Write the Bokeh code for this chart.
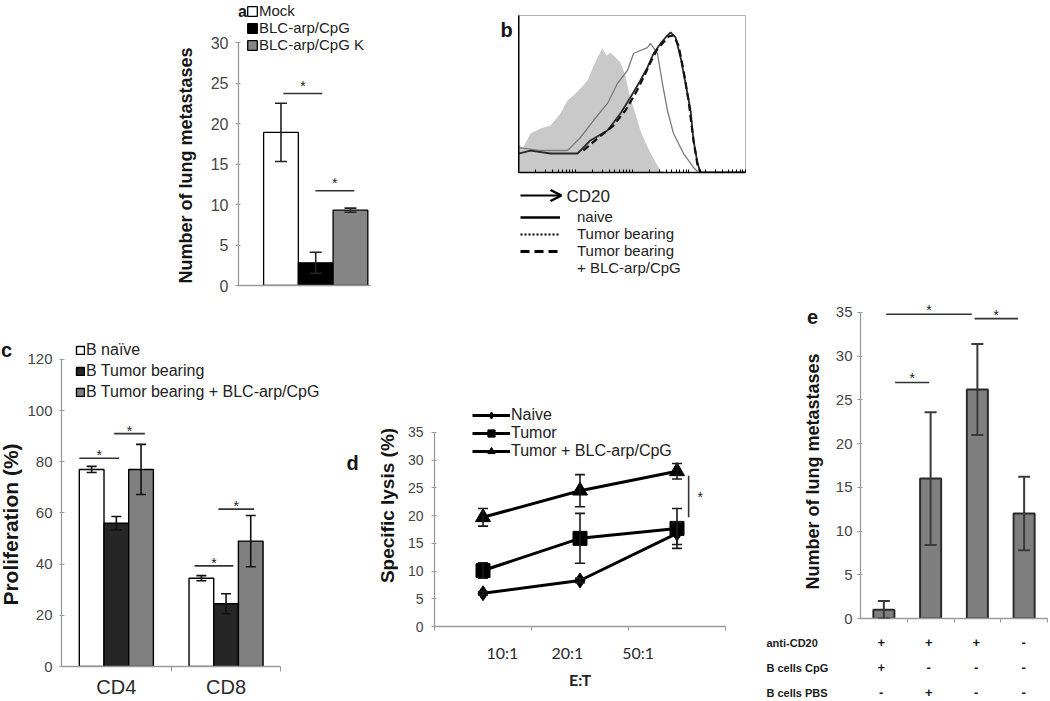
import math
from bokeh.plotting import figure
from bokeh.layouts import row, column
from bokeh.models import (ColumnDataSource, Whisker, TeeHead, Legend, LegendItem, Label,
                          FixedTicker, Range1d, Arrow, OpenHead)
from bokeh.core.properties import value
from bokeh.embed import file_html
from bokeh.resources import INLINE

# ---------------- data ----------------
# panel a
a_groups = ["Mock", "BLC-arp/CpG", "BLC-arp/CpG K"]
a_values = [18.9, 2.8, 9.3]
a_errors = [3.6, 1.3, 0.25]
a_sig_start = [0.07, 0.99]
a_sig_end = [1.19, 2.11]
a_sig_y = [23.7, 11.7]
a_yticks = [0, 5, 10, 15, 20, 25, 30]

# panel b (flow histogram: channel vs % of max)
b_iso_x = [0, 18, 53, 97, 141, 185, 216, 242, 273, 304, 330, 352, 370, 388, 405, 423, 449, 471,
           493, 515, 537, 559, 581, 604, 626, 648, 1000]
b_iso_y = [18.5, 15.3, 24.8, 28.0, 30.0, 37.6, 45.9, 49.0, 53.5, 58.6, 67.5, 74.5, 79.0, 74.5,
           76.4, 73.9, 70.0, 61.8, 47.1, 37.6, 26.8, 19.1, 12.7, 6.4, 1.3, 0.0, 0.0]
b_tb_x = [0, 97, 216, 273, 330, 392, 436, 480, 507, 537, 568, 581, 612, 634, 656, 683, 727, 771, 793, 1000]
b_tb_y = [15.9, 14.0, 14.0, 22.3, 33.1, 44.0, 56.7, 65.0, 75.8, 77.7, 79.6, 82.2, 75.8, 56.7,
          39.5, 24.8, 12.1, 3.2, 0.0, 0.0]
b_naive_x = [0, 53, 141, 260, 317, 392, 449, 493, 537, 568, 595, 626, 648, 670, 692, 714, 736,
             758, 771, 789, 802, 1000]
b_naive_y = [12.1, 14.0, 12.1, 12.1, 20.4, 26.8, 37.6, 47.8, 58.6, 66.9, 75.8, 82.2, 86.0, 89.2,
             86.0, 73.3, 56.7, 39.5, 20.4, 5.7, 0.0, 0.0]
b_blc_x = [286, 348, 418, 471, 515, 551, 581, 608, 634, 661, 683, 705, 727, 749, 771, 789, 802]
b_blc_y = [14.0, 21.7, 29.9, 39.5, 50.3, 60.5, 70.0, 77.7, 82.2, 86.6, 87.3, 80.9, 65.0, 45.9,
           20.4, 4.5, 0.0]
b_series = ["naive", "Tumor bearing", "Tumor bearing", "+ BLC-arp/CpG"]

# panel c
c_cats = ["CD4", "CD8"]
c_series = ["B naïve", "B Tumor bearing", "B Tumor bearing + BLC-arp/CpG"]
c_naive = [77.0, 34.5]
c_naive_err = [1.2, 1.0]
c_tumor = [56.0, 24.5]
c_tumor_err = [2.6, 3.9]
c_blc = [77.0, 49.0]
c_blc_err = [9.8, 10.0]
c_sig_start = [0.163, 0.48, 1.213, 1.43]
c_sig_end = [0.525, 0.76, 1.566, 1.756]
c_sig_y = [81.4, 91.0, 39.3, 61.5]
c_yticks = [0, 20, 40, 60, 80, 100, 120]

# panel d
d_cats = ["10:1", "20:1", "50:1"]
d_series = ["Naive", "Tumor", "Tumor + BLC-arp/CpG"]
d_naive = [6.0, 8.3, 16.8]
d_naive_err = [0.3, 0.4, 2.0]
d_tumor = [10.1, 15.9, 17.7]
d_tumor_err = [1.4, 4.5, 3.6]
d_blc = [19.7, 24.5, 28.0]
d_blc_err = [1.6, 2.9, 1.4]
d_sig_x = [2.62]
d_sig_y0 = [19.7]
d_sig_y1 = [27.2]
d_yticks = [0, 5, 10, 15, 20, 25, 30, 35]

# panel e
e_rows = ["anti-CD20", "B cells CpG", "B cells PBS"]
e_anti = ["+", "+", "+", "-"]
e_cpg = ["+", "-", "-", "-"]
e_pbs = ["-", "+", "-", "-"]
e_values = [1.0, 16.0, 26.2, 12.0]
e_errors = [1.0, 7.6, 5.2, 4.2]
e_sig_start = [0.55, 2.44, 0.74]
e_sig_end = [2.38, 3.37, 1.47]
e_sig_y = [34.8, 34.3, 27.0]
e_yticks = [0, 5, 10, 15, 20, 25, 30, 35]

# ---------------- helpers ----------------
FONT = "Liberation Sans"
AX = "#9a9a9a"
TICK_TXT = "#454545"


def frame_map(L, R, T, B, x0, x1, y0, y1):
    sx = (x1 - x0) / (R - L)
    sy = (y1 - y0) / (B - T)
    return (lambda X: x0 + (X - L) * sx), (lambda Y: y0 + (B - Y) * sy)


def make_fig(w, h, l, r, t, b, xr, yr, axes=True):
    kw = {} if axes else dict(x_axis_type=None, y_axis_type=None)
    p = figure(width=w, height=h, x_range=xr, y_range=yr, min_border_left=l, min_border_right=r,
               min_border_top=t, min_border_bottom=b, toolbar_location=None,
               output_backend="svg", **kw)
    p.grid.visible = False
    p.outline_line_color = None
    p.background_fill_color = "white"
    p.border_fill_color = "white"
    return p


def gutter(x0, x1, y0, y1):
    # text-only area; its data coordinates equal page pixels
    return make_fig(x1 - x0, y1 - y0, 0, 0, 0, 0, Range1d(x0, x1), Range1d(y1, y0), axes=False)


def style_axis(ax, size, standoff, t_in, t_out, color=AX, font=FONT, txt=TICK_TXT):
    ax.axis_line_color = color
    ax.axis_line_width = 1.3
    ax.major_tick_line_color = color
    ax.minor_tick_line_color = color
    ax.major_tick_in = t_in
    ax.major_tick_out = t_out
    ax.minor_tick_in = 0
    ax.minor_tick_out = 0
    ax.major_label_text_font = font
    ax.major_label_text_font_size = size
    ax.major_label_text_color = txt
    ax.major_label_standoff = standoff


def make_legend(items, loc, gw, gh, lh, spacing, standoff, size, font=FONT):
    return Legend(items=items, location=loc, glyph_width=gw, glyph_height=gh, label_height=lh,
                  spacing=spacing, padding=0, margin=0, label_standoff=standoff,
                  label_text_font=font, label_text_font_size=size, label_text_color="#222222",
                  border_line_color=None, background_fill_alpha=0)


def add_err(p, xs, vals, errs, color, width, head):
    src = ColumnDataSource(dict(x=xs, upper=[v + e for v, e in zip(vals, errs)],
                                lower=[v - e for v, e in zip(vals, errs)]))
    w = Whisker(source=src, base="x", upper="upper", lower="lower", line_color=color,
                line_width=width, level="annotation",
                upper_head=TeeHead(size=head, line_color=color, line_width=width),
                lower_head=TeeHead(size=head, line_color=color, line_width=width))
    p.add_layout(w)


def add_label(p, x, y, text, size, bold=True, angle=0.0, align="center", color="#151515", font=FONT):
    p.add_layout(Label(x=x, y=y, text=text, text_font=font, text_font_size=size,
                       text_font_style="bold" if bold else "normal", text_align=align,
                       text_baseline="middle", angle=angle, text_color=color))


def add_sig(p, x0s, x1s, ys, drop, color="#333333", star="14px"):
    p.segment(x0=x0s, y0=ys, x1=x1s, y1=ys, line_color=color, line_width=1.6)
    p.text(x=[(a + b) / 2 for a, b in zip(x0s, x1s)], y=ys, text=["*"] * len(ys),
           text_align="center", text_baseline="bottom", y_offset=drop, text_font=value(FONT),
           text_font_size=star, text_color="#222222")


def W(f):
    return column(f)


# ================= panel a =================
A_L, A_R, A_T, A_B = 238, 370, 0, 285
a_x0, a_x1, a_y1 = -1.223, 2.577, 285 / 8.1
pa = make_fig(180, 300, 38, 10, 0, 15, Range1d(a_x0, a_x1), Range1d(0, a_y1))
a_x = list(range(len(a_groups)))
a_fill = ["white", "black", "#858585"]
a_rend = []
for i in range(len(a_groups)):
    a_rend.append(pa.vbar(x=[a_x[i]], top=[a_values[i]], width=1.0, fill_color=a_fill[i],
                          line_color="black", line_width=1.3))
add_err(pa, a_x, a_values, a_errors, "#222222", 1.6, 12)
add_sig(pa, a_sig_start, a_sig_end, a_sig_y, 0)
style_axis(pa.yaxis[0], "16px", 7, 2, 3)
pa.yaxis.ticker = FixedTicker(ticks=a_yticks)
pa.yaxis.bounds = (0, 30)
style_axis(pa.xaxis[0], "12px", 0, 0, 0)
pa.xaxis.ticker = FixedTicker(ticks=[])
pa.add_layout(make_legend([LegendItem(label=g, renderers=[r]) for g, r in zip(a_groups, a_rend)],
                          (8, 232), 12, 12, 16, -3, 1, "15px"))
fxa, fya = frame_map(A_L, A_R, A_T, A_B, a_x0, a_x1, 0, a_y1)
add_label(pa, fxa(242), fya(11), "a", "16px")

ga = gutter(0, 200, 0, 300)
add_label(ga, 185, 165, "Number of lung metastases", "18px", angle=math.pi / 2)

# ================= panel b =================
gb = gutter(380, 518, 0, 300)
add_label(gb, 506, 29, "b", "20px")

pb = make_fig(232, 180, 0, 5, 15, 8, Range1d(0, 1000), Range1d(0, 100))
pb.outline_line_color = "#b0b0b0"
pb.varea(x=b_iso_x, y1=[0] * len(b_iso_x), y2=b_iso_y, fill_color="#c9c9c9")
pb.line(b_tb_x, b_tb_y, line_color="#7a7a7a", line_width=1.3)
pb.line(b_naive_x, b_naive_y, line_color="#2a2a2a", line_width=1.8)
pb.line(b_blc_x, b_blc_y, line_color="#111111", line_width=2.2, line_dash="7 4")
dec = [0, 250, 500, 750, 1000]
mins = [d + 250 * math.log10(k) for d in dec[:-1] for k in range(1, 10)] + [1000]
style_axis(pb.xaxis[0], "12px", 0, 0, 0, color="black")
pb.xaxis.ticker = FixedTicker(ticks=[], minor_ticks=mins)
pb.xaxis.minor_tick_in = 3
pb.xaxis.minor_tick_line_color = "black"
pb.xaxis.axis_line_width = 1.6
style_axis(pb.yaxis[0], "12px", 0, 0, 0, color="black")
pb.yaxis.ticker = FixedTicker(ticks=[])
pb.yaxis.axis_line_width = 2

# legend / axis-title box under b (coordinates = page pixels)
pbl = gutter(518, 750, 180, 300)
pbl.add_layout(Arrow(x_start=520, y_start=195, x_end=561, y_end=195, line_width=2.2,
                     line_color="black",
                     end=OpenHead(size=11, line_width=2.5, line_color="black")))
add_label(pbl, 566, 196, "CD20", "17px", bold=False, align="left", color="#222222")
off = [0, 1]
l1 = pbl.line(off, off, line_color="black", line_width=2.5)
l2 = pbl.line(off, off, line_color="black", line_width=2, line_dash="2 2")
l3 = pbl.line(off, off, line_color="black", line_width=3, line_dash="9 5")
l4 = pbl.line(off, off, line_alpha=0)
pbl.add_layout(make_legend([LegendItem(label=s, renderers=[r]) for s, r in zip(b_series, [l1, l2, l3, l4])],
                           (2, 24), 40, 16, 16, -1, 17, "15px"))

# ================= panel c =================
gc = gutter(0, 24, 300, 700)
add_label(gc, 6, 349, "c", "20px")
add_label(gc, 10, 524, "Proliferation (%)", "21px", angle=math.pi / 2)

C_L, C_R, C_T, C_B = 59, 336, 336, 667
c_x1 = (C_R - C_L) / 110.5
c_y1 = (C_B - C_T) / 2.567
pc = make_fig(312, 400, 35, 0, 36, 33, Range1d(0, c_x1), Range1d(0, c_y1))
c_center = [i + 0.5 for i in range(len(c_cats))]
c_off = [-0.225, 0.0, 0.225]
c_vals = [c_naive, c_tumor, c_blc]
c_errs = [c_naive_err, c_tumor_err, c_blc_err]
c_fill = ["white", "#262626", "#808080"]
c_rend = []
for k in range(3):
    xs = [c + c_off[k] for c in c_center]
    c_rend.append(pc.vbar(x=xs, top=c_vals[k], width=0.225, fill_color=c_fill[k],
                          line_color="black", line_width=1.4))
for k in range(3):
    xs = [c + c_off[k] for c in c_center]
    add_err(pc, xs, c_vals[k], c_errs[k], "#111111", 1.6, 10)
add_sig(pc, c_sig_start, c_sig_end, c_sig_y, 5)
style_axis(pc.yaxis[0], "15px", 7, 3, 2)
pc.yaxis.ticker = FixedTicker(ticks=c_yticks)
pc.yaxis.bounds = (0, 120)
style_axis(pc.xaxis[0], "20px", 4, 0, 0, txt="#2a2a2a")
pc.xaxis.ticker = FixedTicker(ticks=c_center, minor_ticks=[1, 2])
pc.xaxis.minor_tick_out = 5
pc.xaxis.bounds = (0, 2)
pc.xaxis.major_label_overrides = {c: n for c, n in zip(c_center, c_cats)}
pc.add_layout(make_legend([LegendItem(label=s, renderers=[r]) for s, r in zip(c_series, c_rend)],
                          (14, 264), 10, 10, 20, 1, 1, "16px"))

# ================= panel d =================
gd = gutter(336, 398, 300, 700)
add_label(gd, 352, 462, "d", "20px")
add_label(gd, 387, 505, "Specific lysis (%)", "19px", angle=math.pi / 2)

D_L, D_R, D_T, D_B = 434, 725, 402, 626
d_y1 = (D_B - D_T) / 5.543
pd_ = make_fig(362, 400, 36, 35, 102, 74, Range1d(0, 3), Range1d(0, d_y1))
d_x = [i + 0.5 for i in range(len(d_cats))]
d_vals = [d_naive, d_tumor, d_blc]
d_errs = [d_naive_err, d_tumor_err, d_blc_err]
d_mark = ["diamond", "square", "triangle"]
d_size = [15, 14, 15]
d_items = []
for k in range(3):
    add_err(pd_, d_x, d_vals[k], d_errs[k], "#1a1a1a", 1.6, 10)
for k in range(3):
    rl = pd_.line(d_x, d_vals[k], line_color="black", line_width=3)
    rs = pd_.scatter(d_x, d_vals[k], marker=d_mark[k], size=d_size[k], fill_color="black",
                     line_color="black")
    d_items.append(LegendItem(label=d_series[k], renderers=[rl, rs]))
pd_.segment(x0=d_sig_x, y0=d_sig_y0, x1=d_sig_x, y1=d_sig_y1, line_color="#333333", line_width=1.6)
pd_.text(x=[d_sig_x[0] + 0.12], y=[(d_sig_y0[0] + d_sig_y1[0]) / 2], text=["*"], text_align="center",
         text_baseline="middle", text_font=value(FONT), text_font_size="14px", text_color="#222222")
style_axis(pd_.yaxis[0], "14px", 8, 2, 3)
pd_.yaxis.ticker = FixedTicker(ticks=d_yticks)
pd_.yaxis.bounds = (0, 35)
d_lab_pos = [0.70, 1.37, 2.10]
style_axis(pd_.xaxis[0], "16px", 12, 0, 0, font="Lato", txt="#2a2a2a")
pd_.xaxis.ticker = FixedTicker(ticks=d_lab_pos, minor_ticks=[0, 1, 2, 3])
pd_.xaxis.minor_tick_out = 4
pd_.xaxis.major_label_overrides = {p: n for p, n in zip(d_lab_pos, d_cats)}
pd_.xaxis.axis_label = "E:T"
pd_.xaxis.axis_label_text_font = "Lato"
pd_.xaxis.axis_label_text_font_style = "bold"
pd_.xaxis.axis_label_text_font_size = "16px"
pd_.xaxis.axis_label_text_color = "#222222"
pd_.xaxis.axis_label_standoff = 5
pd_.add_layout(make_legend(d_items, (38, 166), 38, 18, 18, 0, 1, "16px"))

# ================= panel e =================
ge = gutter(760, 832, 300, 700)
add_label(ge, 812, 316, "e", "20px")
add_label(ge, 812, 471, "Number of lung metastases", "18px", angle=math.pi / 2)
tab_y = [642, 667, 692]
for ri, name in enumerate(e_rows):
    add_label(ge, 766, tab_y[ri], name, "11px", align="left", color="#1a1a1a")

E_L, E_R, E_T, E_B = 857, 1047, 300, 618
e_y1 = (E_B - E_T) / 8.743
pe = make_fig(218, 328, 25, 3, 0, 10, Range1d(0, 4), Range1d(0, e_y1))
fxe, fye = frame_map(E_L, E_R, E_T, E_B, 0, 4, 0, e_y1)
e_x = [i + 0.5 for i in range(len(e_values))]
pe.vbar(x=e_x, top=e_values, width=0.45, fill_color="#7f7f7f", line_color="#2b2b2b", line_width=2)
add_err(pe, e_x, e_values, e_errors, "#3a3a3a", 2, 12)
add_sig(pe, e_sig_start, e_sig_end, e_sig_y, 4)
style_axis(pe.yaxis[0], "15px", 5, 2, 3)
pe.yaxis.ticker = FixedTicker(ticks=e_yticks)
pe.yaxis.bounds = (0, 35)
style_axis(pe.xaxis[0], "12px", 0, 0, 0)
pe.xaxis.ticker = FixedTicker(ticks=[], minor_ticks=[1, 2, 3, 4])
pe.xaxis.minor_tick_out = 4

# treatment table under e (rows 0..2)
pet = make_fig(218, 72, 0, 0, 0, 0, Range1d(fxe(832), fxe(1050)),
               Range1d((700 - tab_y[0]) / 25, (628 - tab_y[0]) / 25), axes=False)
tab_rows = list(range(len(e_rows)))
for ri, syms in enumerate([e_anti, e_cpg, e_pbs]):
    pet.text(x=e_x, y=[tab_rows[ri]] * len(syms), text=syms, text_align="center",
             text_baseline="middle", text_font=value(FONT), text_font_style="bold",
             text_font_size="13px", text_color="#1a1a1a")

# ================= layout =================
top = row(W(ga), W(pa), W(gb), column(W(pb), W(pbl)))
bottom = row(W(gc), W(pc), W(gd), W(pd_), W(ge), column(W(pe), W(pet)))
layout = column(top, bottom)

open("out.html", "w").write(file_html(layout, INLINE))
